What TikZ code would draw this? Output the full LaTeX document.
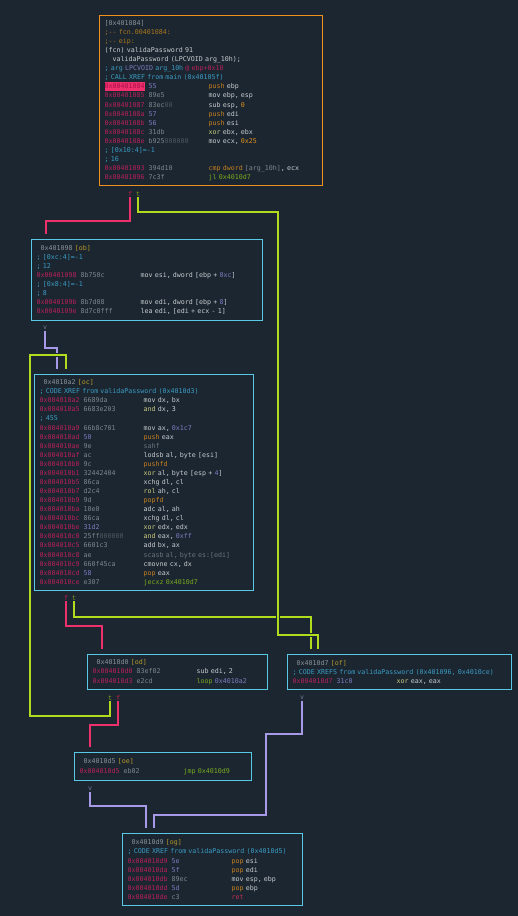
\documentclass[tikz,border=0pt]{standalone}
\usepackage{fontspec}
\usepackage{xcolor}
\usepackage{tikz}
\usetikzlibrary{positioning,calc}
\newfontfamily\rmono{DejaVu Sans Mono}

\definecolor{bgc}{HTML}{1B2630}
\definecolor{cyb}{HTML}{58C8E4}
\definecolor{orb}{HTML}{F0901E}
\definecolor{caddr}{HTML}{B8205A}
\definecolor{cbyte}{HTML}{7E868E}
\definecolor{cdark}{HTML}{4C5862}
\definecolor{cpur}{HTML}{7C7CC0}
\definecolor{cpush}{HTML}{C8801E}
\definecolor{cins}{HTML}{C8CCD0}
\definecolor{cxor}{HTML}{CACA80}
\definecolor{cjmp}{HTML}{7AAA1E}
\definecolor{cdim}{HTML}{6C747C}
\definecolor{cret}{HTML}{C42E56}
\definecolor{ccom}{HTML}{3C9CC4}
\definecolor{cflag}{HTML}{A8761E}
\definecolor{chdr}{HTML}{8A9298}
\definecolor{cgold}{HTML}{B8982A}
\definecolor{cnum}{HTML}{E0901E}
\definecolor{chl}{HTML}{F0306C}
\definecolor{chltx}{HTML}{A8104A}
\definecolor{redge}{HTML}{F0306C}
\definecolor{gedge}{HTML}{B0DC1E}
\definecolor{pedge}{HTML}{A898E8}
\definecolor{cf}{HTML}{C02050}
\definecolor{ct}{HTML}{7A9A20}
\definecolor{cv}{HTML}{6E7898}

\newlength\cw
\setlength\cw{3.9976pt}
\newcommand{\asm}[3]{\makebox[11\cw][l]{\textcolor{caddr}{#1}}\makebox[15\cw][l]{#2}#3}
\newcommand{\hdr}[2]{\hspace*{\cw}\textcolor{chdr}{#1} \textcolor{cgold}{[#2]}}
\newcommand{\hlt}[1]{{\setlength{\fboxsep}{0pt}\colorbox{chl}{\rule[-2.3pt]{0pt}{9.07pt}\textcolor{chltx}{#1}}}}
\newcommand{\rcmt}[1]{\textcolor{ccom}{#1}}
\newcommand{\rby}[1]{\textcolor{cbyte}{#1}}
\newcommand{\rbp}[1]{\textcolor{cpur}{#1}}
\newcommand{\rbz}[1]{\textcolor{cdark}{#1}}
\newcommand{\rnum}[1]{\textcolor{cnum}{#1}}
\newcommand{\rpur}[1]{\textcolor{cpur}{#1}}
\newcommand{\rxor}[1]{\textcolor{cxor}{#1}}
\newcommand{\rjmp}[1]{\textcolor{cjmp}{#1}}
\newcommand{\rpsh}[1]{\textcolor{cpush}{#1}}
\newcommand{\rdim}[1]{\textcolor{cdim}{#1}}
\newcommand{\rret}[1]{\textcolor{cret}{#1}}

\begin{document}
\begin{tikzpicture}[x=1pt, y=-1pt]

\tikzstyle{blk}=[draw=cyb, line width=1.3pt, fill=bgc, anchor=north west,
    inner xsep=5pt, inner ysep=0pt, align=left, text=cins,
    font=\rmono\fontsize{6.64}{9.07}\selectfont]
\tikzstyle{lab}=[inner sep=0.5pt, font=\rmono\fontsize{6.64}{9.07}\selectfont]
\tikzstyle{fedge}=[draw=redge, line width=1.2pt]
\tikzstyle{tedge}=[draw=gedge, line width=1.2pt]
\tikzstyle{vedge}=[draw=pedge, line width=1.2pt]
\tikzstyle{halo}=[preaction={draw=bgc, line width=4.5pt}]

\fill[bgc] (0,0) rectangle (518,916);
\useasboundingbox (0,0) rectangle (518,916);

\node[blk, draw=orb, text width=213pt, minimum height=170pt] (n0) at (99,15) {%
\textcolor{chdr}{[0x401084]}\\
\textcolor{cflag}{;-{}- fcn.00401084:}\\
\textcolor{cflag}{;-{}- eip:}\\
(fcn) validaPassword 91\\
\hspace*{2\cw}validaPassword (LPCVOID arg\_10h);\\
\rcmt{; arg} \rpur{LPCVOID} \rcmt{arg\_10h} \textcolor{caddr}{@ ebp+0x10}\\
\rcmt{; CALL XREF from main (0x40105f)}\\
\asm{\hlt{0x00401084}}{\rbp{55}}{\rpsh{push} ebp}\\
\asm{0x00401085}{\rby{89e5}}{mov ebp, esp}\\
\asm{0x00401087}{\rby{83ec}\rbz{00}}{sub esp, \rnum{0}}\\
\asm{0x0040108a}{\rbp{57}}{\rpsh{push} edi}\\
\asm{0x0040108b}{\rbp{56}}{\rpsh{push} esi}\\
\asm{0x0040108c}{\rby{31db}}{\rxor{xor} ebx, ebx}\\
\asm{0x0040108e}{\rby{b925}\rbz{000000}}{mov ecx, \rnum{0x25}}\\
\rcmt{; [0x10:4]=-1}\\
\rcmt{; 16}\\
\asm{0x00401093}{\rby{394d10}}{\rpsh{cmp dword} \rby{[arg\_10h]}, ecx}\\
\asm{0x00401096}{\rby{7c3f}}{\rjmp{jl 0x4010d7}}};

\node[blk, text width=221pt, minimum height=81pt] (ob) at (31,239) {%
\hdr{0x401098}{ob}\\
\rcmt{; [0xc:4]=-1}\\
\rcmt{; 12}\\
\asm{0x00401098}{\rby{8b750c}}{mov esi, dword [ebp + \rpur{0xc}]}\\
\rcmt{; [0x8:4]=-1}\\
\rcmt{; 8}\\
\asm{0x0040109b}{\rby{8b7d08}}{mov edi, dword [ebp + \rpur{8}]}\\
\asm{0x0040109e}{\rby{8d7c0fff}}{lea edi, [edi + ecx - 1]}};

\node[blk, text width=209pt, minimum height=216pt] (oc) at (34,374) {%
\hdr{0x4010a2}{oc}\\
\rcmt{; CODE XREF from validaPassword (0x4010d3)}\\
\asm{0x004010a2}{\rby{6689da}}{mov dx, bx}\\
\asm{0x004010a5}{\rby{6683e203}}{\rxor{and} dx, 3}\\
\rcmt{; 455}\\
\asm{0x004010a9}{\rby{66b8c701}}{mov ax, \rpur{0x1c7}}\\
\asm{0x004010ad}{\rbp{50}}{\rpsh{push} eax}\\
\asm{0x004010ae}{\rby{9e}}{\rdim{sahf}}\\
\asm{0x004010af}{\rby{ac}}{lodsb al, byte [esi]}\\
\asm{0x004010b0}{\rby{9c}}{\rpsh{pushfd}}\\
\asm{0x004010b1}{\rby{32442404}}{\rxor{xor} al, byte [esp + \rpur{4}]}\\
\asm{0x004010b5}{\rby{86ca}}{xchg dl, cl}\\
\asm{0x004010b7}{\rby{d2c4}}{\rxor{rol} ah, cl}\\
\asm{0x004010b9}{\rby{9d}}{\rpsh{popfd}}\\
\asm{0x004010ba}{\rby{10e0}}{adc al, ah}\\
\asm{0x004010bc}{\rby{86ca}}{xchg dl, cl}\\
\asm{0x004010be}{\rbp{31d2}}{\rxor{xor} edx, edx}\\
\asm{0x004010c0}{\rby{25ff}\rbz{000000}}{\rxor{and} eax, \rpur{0xff}}\\
\asm{0x004010c5}{\rby{6601c3}}{add bx, ax}\\
\asm{0x004010c8}{\rby{ae}}{\rdim{scasb al, byte es:[edi]}}\\
\asm{0x004010c9}{\rby{660f45ca}}{cmovne cx, dx}\\
\asm{0x004010cd}{\rbp{58}}{\rpsh{pop} eax}\\
\asm{0x004010ce}{\rby{e307}}{\rjmp{jecxz 0x4010d7}}};

\node[blk, text width=170pt, minimum height=35pt] (od) at (87,654) {%
\hdr{0x4010d0}{od}\\
\asm{0x004010d0}{\rby{83ef02}}{sub edi, 2}\\
\asm{0x004010d3}{\rby{e2cd}}{\rjmp{loop} \rpur{0x4010a2}}};

\node[blk, text width=214pt, minimum height=35pt] (of) at (287,654) {%
\hdr{0x4010d7}{of}\\
\rcmt{; CODE XREFS from validaPassword (0x401096, 0x4010ce)}\\
\asm{0x004010d7}{\rbp{31c0}}{\rxor{xor} eax, eax}};

\node[blk, text width=167pt, minimum height=28pt] (oe) at (74,752) {%
\hdr{0x4010d5}{oe}\\
\asm{0x004010d5}{\rby{eb02}}{\rjmp{jmp 0x4010d9}}};

\node[blk, text width=170pt, minimum height=72pt] (og) at (122,833) {%
\hdr{0x4010d9}{og}\\
\rcmt{; CODE XREF from validaPassword (0x4010d5)}\\
\asm{0x004010d9}{\rbp{5e}}{\rpsh{pop} esi}\\
\asm{0x004010da}{\rbp{5f}}{\rpsh{pop} edi}\\
\asm{0x004010db}{\rby{89ec}}{mov esp, ebp}\\
\asm{0x004010dd}{\rbp{5d}}{\rpsh{pop} ebp}\\
\asm{0x004010de}{\rby{c3}}{\rret{ret}}};

\node[lab, text=cf] (n0f) at (130,194) {f};
\node[lab, text=ct] (n0t) at (138,194) {t};
\node[lab, text=cv] (obv) at (45,328) {v};
\node[lab, text=cf] (ocf) at (66,598) {f};
\node[lab, text=ct] (oct) at (74,598) {t};
\node[lab, text=ct] (odt) at (110,698) {t};
\node[lab, text=cf] (odf) at (118,698) {f};
\node[lab, text=cv] (ofv) at (302,698) {v};
\node[lab, text=cv] (oev) at (90,789) {v};

\coordinate (obin) at ([xshift=15pt, yshift=5pt]ob.north west);
\coordinate (ocin1) at ([xshift=23pt, yshift=5pt]oc.north west);
\coordinate (ocin2) at ([xshift=32pt, yshift=5pt]oc.north west);
\coordinate (odin) at ([xshift=15pt, yshift=5pt]od.north west);
\coordinate (ofin1) at ([xshift=24pt, yshift=5pt]of.north west);
\coordinate (ofin2) at ([xshift=31pt, yshift=5pt]of.north west);
\coordinate (oein) at ([xshift=16pt, yshift=5pt]oe.north west);
\coordinate (ogin1) at ([xshift=24pt, yshift=5pt]og.north west);
\coordinate (ogin2) at ([xshift=32pt, yshift=5pt]og.north west);

\draw[vedge] (obv.south) -- (45,348) -| (ocin1);
\draw[fedge] (ocf.south) -- (66,626) -| (odin);
\draw[tedge] (oct.south) -- (74,617) -| (ofin1);
\draw[fedge] (n0f.south) -- (130,221) -| (obin);
\draw[tedge, halo] (n0t.south) -- (138,212) -| (278,635) -| (ofin2);
\draw[tedge, halo] (odt.south) -- (110,716) -| (30,355) -| (ocin2);
\draw[fedge] (odf.south) -- (118,725) -| (oein);
\draw[vedge] (ofv.south) -- (302,734) -| (266,815) -| (ogin2);
\draw[vedge] (oev.south) -- (90,806) -| (ogin1);

\end{tikzpicture}
\end{document}
